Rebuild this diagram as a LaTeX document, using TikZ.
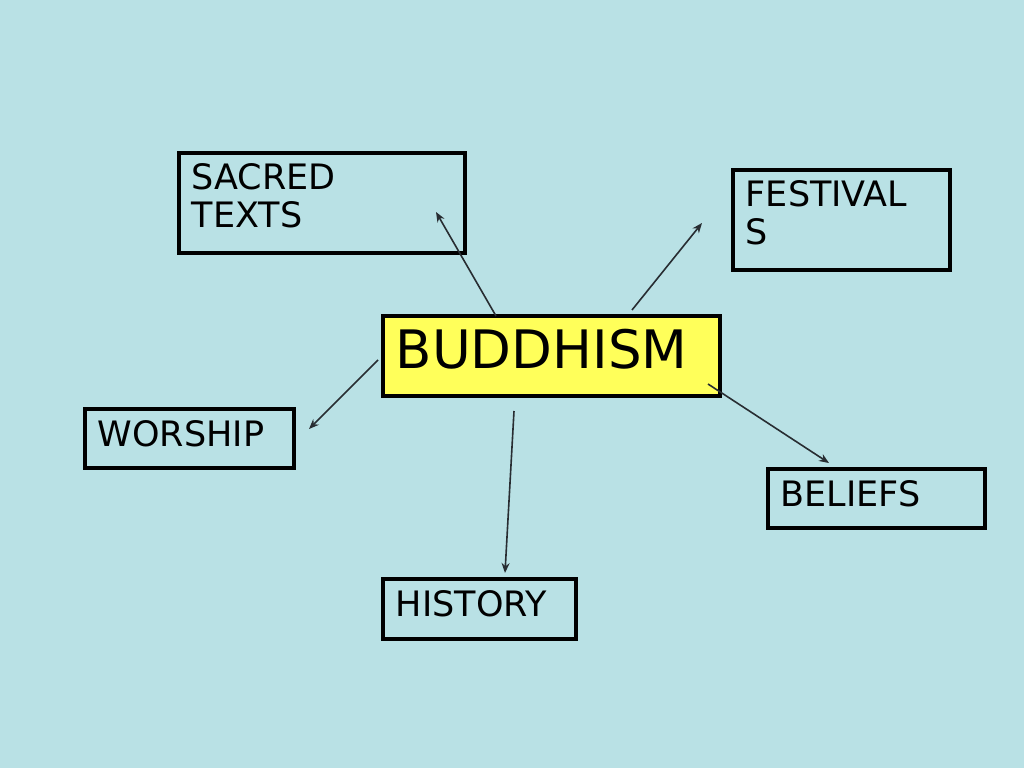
\documentclass[tikz,border=0pt]{standalone}
\usepackage{fontspec}
\setmainfont{DejaVu Sans}
\usetikzlibrary{arrows.meta}
\definecolor{bg}{RGB}{185,225,229}
\definecolor{yel}{RGB}{255,255,90}
\definecolor{arr}{RGB}{40,45,50}
\begin{document}
\begin{tikzpicture}[x=1pt,y=-1pt,
  box/.style={draw=black, line width=3.5pt, anchor=north west, align=left,
    inner xsep=13pt, inner ysep=0pt, text depth=10pt, font=\fontsize{35}{38}\selectfont},
  twoline/.style={text depth=52pt},
  link/.style={draw=arr, line width=1.6pt, -{Stealth[length=10pt,width=8pt]}}]
\fill[bg] (0,0) rectangle (1024,768);
\useasboundingbox (0,0) rectangle (1024,768);

\node[box, twoline, text width=260pt, minimum height=100pt] (sacred) at (177,151) {SACRED\\TEXTS};
\node[box, twoline, text width=191pt, minimum height=100pt] (fest) at (731,168) {FESTIVAL\\S};
\node[box, fill=yel, text width=311pt, minimum height=80pt, text depth=14pt, font=\fontsize{53}{56}\selectfont] (bud) at (381,314) {BUDDHISM};
\node[box, text width=183pt, minimum height=59pt] (wor) at (83,407) {WORSHIP};
\node[box, text width=191pt, minimum height=59pt] (bel) at (766,467) {BELIEFS};
\node[box, text width=167pt, minimum height=60pt] (his) at (381,577) {HISTORY};

\coordinate (s1) at (496,316); \coordinate (e1) at (436,212);
\coordinate (s2) at (632,310); \coordinate (e2) at (702,223);
\coordinate (s3) at (378,360); \coordinate (e3) at (309,429);
\coordinate (s4) at (708,384); \coordinate (e4) at (829,463);
\coordinate (s5) at (514,411); \coordinate (e5) at (505,573);

\draw[link] (s1) -- (e1);
\draw[link] (s2) -- (e2);
\draw[link] (s3) -- (e3);
\draw[link] (s4) -- (e4);
\draw[link] (s5) -- (e5);
\end{tikzpicture}
\end{document}
